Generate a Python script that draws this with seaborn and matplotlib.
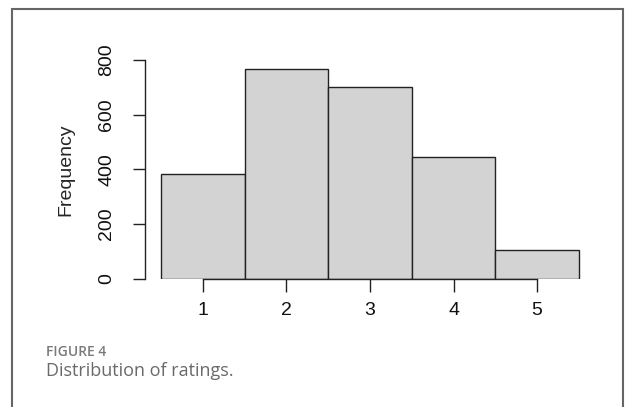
import matplotlib
matplotlib.use("Agg")
import matplotlib.pyplot as plt
import seaborn as sns

# ratings 1..5 and how often each was given
ratings = [1, 2, 3, 4, 5]
counts = [382, 766, 702, 445, 104]
y_ticks = [0, 200, 400, 600, 800]

sns.set_style("white")
plt.rcParams['font.family'] = ['Liberation Sans', 'DejaVu Sans']

fig = plt.figure(figsize=(6.25, 4.07), dpi=100)
# plot region placed like the R hist: x 0.3..5.7, y 0..800
ax = fig.add_axes([144.5 / 625, 1 - 278.5 / 407, 451 / 625, 218.5 / 407])

sns.histplot(x=ratings, weights=counts, discrete=True, ax=ax,
             color="#D3D3D3", edgecolor="#222222", linewidth=1.0, alpha=1)

ax.set_xlim(0.3, 5.7)
ax.set_ylim(0, 800)
ax.set_xticks(ratings)
ax.set_yticks(y_ticks)
ax.set_yticklabels([str(t) for t in y_ticks], rotation=90, va="center")
ax.set_xlabel("")
ax.set_ylabel("Frequency", fontsize=14, labelpad=17)

for s in ["top", "right"]:
    ax.spines[s].set_visible(False)
ax.spines["left"].set_bounds(0, 800)
ax.spines["bottom"].set_bounds(1, 5)
for s in ["left", "bottom"]:
    ax.spines[s].set_color("#222222")
    ax.spines[s].set_linewidth(1.0)
ax.tick_params(axis="both", which="major", length=9, width=1.0, color="#222222",
               labelsize=14, labelcolor="#111111", left=True, bottom=True)
ax.tick_params(axis="x", pad=8)
ax.tick_params(axis="y", pad=12)

# border around the figure panel
fig.add_artist(plt.Rectangle((12 / 625, -0.05), 611 / 625, 1 - 9 / 407 + 0.05,
                             transform=fig.transFigure, fill=False,
                             edgecolor="#666666", linewidth=1.5))

fig.text(46 / 625, 1 - 356 / 407, "FIGURE 4", fontsize=10, color="#7a7a7a",
         family=["Open Sans", "DejaVu Sans"], fontweight="semibold", va="baseline")
fig.text(46 / 625, 1 - 375.5 / 407, "Distribution of ratings.", fontsize=13, color="#6a6a6a",
         family=["Open Sans", "DejaVu Sans"], va="baseline")

fig.savefig("out.png", dpi=100)
